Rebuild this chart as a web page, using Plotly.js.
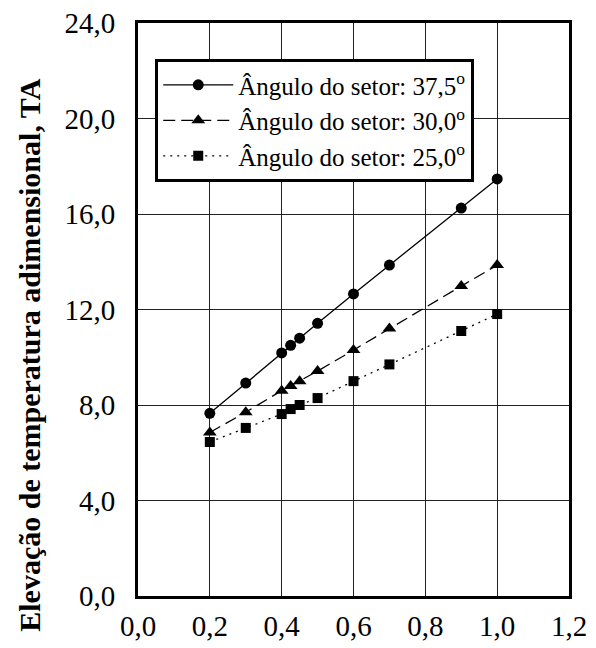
<!DOCTYPE html>
<html>
<head>
<meta charset="utf-8">
<script src="https://cdn.plot.ly/plotly-3.0.1.min.js"></script>
<style>html,body{margin:0;padding:0;background:#fff;} #chart{width:596px;height:648px;}</style>
</head>
<body>
<div id="chart"></div>
<script>
const xVals = [0.2, 0.3, 0.4, 0.425, 0.45, 0.5, 0.6, 0.7, 0.9, 1.0];
const y375 = [7.65, 8.92, 10.18, 10.5, 10.8, 11.42, 12.65, 13.86, 16.25, 17.47];
const y300 = [6.85, 7.7, 8.6, 8.8, 9.0, 9.42, 10.3, 11.2, 12.98, 13.86];
const y250 = [6.45, 7.04, 7.62, 7.83, 8.0, 8.29, 9.0, 9.7, 11.1, 11.81];
const names = ["Ângulo do setor: 37,5<sup>o</sup>", "Ângulo do setor: 30,0<sup>o</sup>", "Ângulo do setor: 25,0<sup>o</sup>"];
const xTicks = [0, 0.2, 0.4, 0.6, 0.8, 1.0, 1.2];
const yTicks = [0, 4, 8, 12, 16, 20, 24];
const yTitle = "Elevação de temperatura adimensional, TA";

const FONT = "'Liberation Serif', 'Times New Roman', Times, serif";
const traces = [
  {x: xVals, y: y375, name: names[0], mode: "lines+markers",
   line: {color: "#000", width: 1.3, dash: "solid"},
   marker: {symbol: "circle", size: 11, color: "#000"}},
  {x: xVals, y: y300, name: names[1], mode: "lines+markers",
   line: {color: "#000", width: 1.3, dash: "12px,6px"},
   marker: {symbol: "triangle-up", size: 12, color: "#000"}},
  {x: xVals, y: y250, name: names[2], mode: "lines+markers",
   line: {color: "#000", width: 1.3, dash: "2px,5px"},
   marker: {symbol: "square", size: 10, color: "#000"}}
];

const layout = {
  width: 596, height: 648,
  margin: {l: 138, r: 27, t: 23, b: 52, pad: 0},
  paper_bgcolor: "#fff", plot_bgcolor: "#fff",
  separators: ",.",
  font: {family: FONT, color: "#000", size: 29},
  showlegend: true,
  legend: {
    x: 0.04, y: 0.937, xanchor: "left", yanchor: "top",
    bgcolor: "#fff", bordercolor: "#000", borderwidth: 3,
    font: {family: FONT, size: 25, color: "#000"},
    traceorder: "normal", itemwidth: 70
  },
  xaxis: {
    range: [0, 1.2], tickvals: xTicks, tickformat: ".1f",
    showgrid: true, gridcolor: "#222", gridwidth: 1,
    zeroline: false, showline: true, linecolor: "#000", linewidth: 3, mirror: true,
    ticks: "", ticklabelstandoff: 2,
    tickfont: {family: FONT, size: 29, color: "#000"}
  },
  yaxis: {
    range: [0, 24], tickvals: yTicks, tickformat: ".1f",
    showgrid: true, gridcolor: "#222", gridwidth: 1,
    zeroline: false, showline: true, linecolor: "#000", linewidth: 3, mirror: true,
    ticks: "", ticklabelstandoff: 14,
    tickfont: {family: FONT, size: 29, color: "#000"}
  },
  annotations: [{
    text: "<b>" + yTitle + "</b>", textangle: -90,
    xref: "paper", yref: "paper", x: -0.252, y: 0.42,
    xanchor: "center", yanchor: "middle", showarrow: false,
    font: {family: FONT, size: 30, color: "#000"}
  }]
};

Plotly.newPlot("chart", traces, layout, {staticPlot: true, displayModeBar: false});
</script>
</body>
</html>
